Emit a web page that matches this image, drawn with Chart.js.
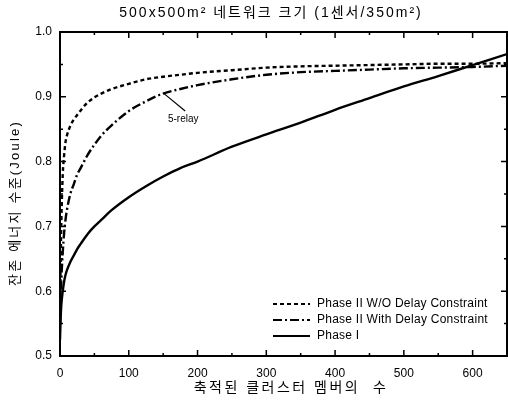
<!DOCTYPE html>
<html>
  <head>
    <title>Residual energy</title>
    <script src="https://cdn.jsdelivr.net/npm/chart.js@4"></script>
    <style>
      body { margin: 0; background: #fff; }
      .chart-container { width: 508px; height: 402px; }
    </style>
  </head>
  <body>
    <div class="chart-container">
      <canvas id="energyChart"></canvas>
    </div>
    <script>
      const TITLE = '500x500m² 네트워크 크기 (1센서/350m²)';
      const X_TITLE = '축적된 클러스터 멤버의  수';
      const Y_TITLE = '잔존 에너지 수준(Joule)';
      const ANNOTATION = '5-relay';

      const members = [0, 1, 2, 4, 6, 8, 10, 15, 20, 25, 30, 40, 50, 60, 75, 100, 125, 150, 175, 200, 250, 300, 350, 400, 450, 500, 550, 600, 650];
      const seriesNames = ['Phase II W/O Delay Constraint', 'Phase II With Delay Constraint', 'Phase I'];
      const phase2NoDelay = [0.58, 0.65, 0.71, 0.78, 0.81, 0.83, 0.84, 0.855, 0.865, 0.872, 0.879, 0.891, 0.899, 0.905, 0.912, 0.92, 0.927, 0.931, 0.934, 0.937, 0.941, 0.945, 0.947, 0.948, 0.949, 0.95, 0.951, 0.951, 0.952];
      const phase2Delay = [0.55, 0.59, 0.62, 0.66, 0.69, 0.71, 0.725, 0.75, 0.765, 0.78, 0.79, 0.81, 0.826, 0.84, 0.856, 0.878, 0.893, 0.905, 0.912, 0.918, 0.927, 0.934, 0.938, 0.94, 0.942, 0.944, 0.945, 0.946, 0.948];
      const phase1 = [0.525, 0.56, 0.58, 0.6, 0.615, 0.625, 0.632, 0.645, 0.655, 0.665, 0.673, 0.688, 0.7, 0.71, 0.725, 0.745, 0.762, 0.777, 0.79, 0.8, 0.823, 0.842, 0.86, 0.88, 0.898, 0.916, 0.932, 0.949, 0.966];

      const FONT = "'Liberation Sans', Arial, 'Noto Sans CJK KR', sans-serif";
      const dashes = [[4, 3], [9, 3, 2, 3], []];

      function toPoints(ys) {
        return members.map((x, i) => ({ x: x, y: ys[i] }));
      }

      // inward ticks, frame, titles, legend and the 5-relay note
      const decorations = {
        id: 'decorations',
        afterDatasetsDraw(chart) {
          const ctx = chart.ctx;
          const area = chart.chartArea;
          const xs = chart.scales.x;
          const ys = chart.scales.y;
          ctx.save();
          ctx.strokeStyle = '#000';
          ctx.lineWidth = 2;
          ctx.setLineDash([]);
          ctx.strokeRect(area.left, area.top, area.right - area.left, area.bottom - area.top);

          ctx.lineWidth = 1.5;
          ctx.beginPath();
          for (let v = 0; v <= 650; v += 50) {
            const px = xs.getPixelForValue(v);
            const len = v % 100 === 0 ? 6 : 3;
            ctx.moveTo(px, area.bottom); ctx.lineTo(px, area.bottom - len);
            ctx.moveTo(px, area.top); ctx.lineTo(px, area.top + len);
          }
          for (let k = 0; k <= 10; k++) {
            const py = ys.getPixelForValue(0.5 + k * 0.05);
            const len = k % 2 === 0 ? 6 : 3;
            ctx.moveTo(area.left, py); ctx.lineTo(area.left + len, py);
            ctx.moveTo(area.right, py); ctx.lineTo(area.right - len, py);
          }
          ctx.stroke();

          // titles (the korean glyphs in the original are spaced out)
          ctx.fillStyle = '#000';
          ctx.textAlign = 'center';
          ctx.textBaseline = 'middle';
          ctx.letterSpacing = '2px';
          ctx.font = '14px ' + FONT;
          ctx.fillText(TITLE, 271, 13);
          ctx.letterSpacing = '2.5px';
          ctx.fillText(X_TITLE, 291, 388);
          ctx.save();
          ctx.translate(15, 203);
          ctx.rotate(-Math.PI / 2);
          ctx.letterSpacing = '2.2px';
          ctx.font = '13px ' + FONT;
          ctx.fillText(Y_TITLE, 0, 0);
          ctx.restore();

          // legend
          ctx.letterSpacing = '0.25px';
          ctx.font = '12px ' + FONT;
          ctx.textAlign = 'left';
          seriesNames.forEach((name, i) => {
            const y = area.bottom - 52 + i * 16;
            ctx.lineWidth = 2.2;
            ctx.setLineDash(dashes[i]);
            ctx.beginPath();
            ctx.moveTo(area.left + 213, y);
            ctx.lineTo(area.left + 250, y);
            ctx.stroke();
            ctx.fillText(name, area.left + 257, y);
          });

          // note
          ctx.letterSpacing = '0px';
          ctx.setLineDash([]);
          ctx.lineWidth = 1.2;
          ctx.beginPath();
          ctx.moveTo(xs.getPixelForValue(150), ys.getPixelForValue(0.906));
          ctx.lineTo(xs.getPixelForValue(182), ys.getPixelForValue(0.878));
          ctx.stroke();
          ctx.font = '10px ' + FONT;
          ctx.fillText(ANNOTATION, xs.getPixelForValue(157), ys.getPixelForValue(0.865));
          ctx.restore();
        }
      };

      new Chart(document.getElementById('energyChart'), {
        type: 'scatter',
        data: {
          datasets: [phase2NoDelay, phase2Delay, phase1].map((ys, i) => ({
            label: seriesNames[i],
            data: toPoints(ys),
            showLine: true,
            borderColor: '#000',
            backgroundColor: '#000',
            borderWidth: 2.4,
            borderDash: dashes[i],
            pointRadius: 0,
            cubicInterpolationMode: 'monotone',
          }))
        },
        options: {
          responsive: true,
          maintainAspectRatio: false,
          animation: false,
          layout: { padding: { top: 32, right: 1, left: 0, bottom: 0 } },
          plugins: {
            legend: { display: false },
            title: { display: false },
            tooltip: { enabled: false }
          },
          scales: {
            x: {
              type: 'linear',
              min: 0,
              max: 650,
              afterFit: (scale) => {
                scale.height = 46;
                scale.paddingLeft = 0;
                scale.paddingRight = 0;
              },
              border: { display: false },
              grid: { display: false, drawTicks: false },
              ticks: {
                stepSize: 50,
                autoSkip: false,
                maxRotation: 0,
                padding: 10,
                color: '#000',
                font: { family: FONT, size: 12 },
                callback: (v) => (v % 100 === 0 ? v : '')
              }
            },
            y: {
              min: 0.5,
              max: 1.0,
              afterFit: (scale) => { scale.width = 60; },
              border: { display: false },
              grid: { display: false, drawTicks: false },
              ticks: {
                stepSize: 0.1,
                padding: 8,
                color: '#000',
                font: { family: FONT, size: 12 },
                callback: (v) => v.toFixed(1)
              }
            }
          }
        },
        plugins: [decorations]
      });
    </script>
  </body>
</html>
